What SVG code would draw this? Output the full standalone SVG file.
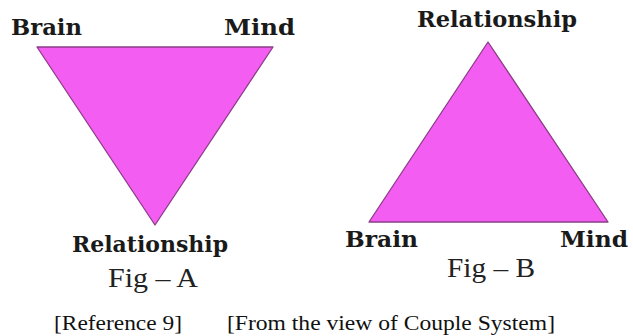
<svg xmlns="http://www.w3.org/2000/svg" width="633" height="336" viewBox="0 0 633 336">
<style>
.tri{fill:#F45DF2;stroke:#8C3C88;stroke-width:1.3;stroke-linejoin:round}
.lbl{font-family:"DejaVu Serif","Liberation Serif",serif;font-weight:bold;font-size:23px;fill:#1a1a1a}
.fig{font-family:"Liberation Serif","Times New Roman",serif;font-size:28px;fill:#222}
.cap{font-family:"Liberation Serif","Times New Roman",serif;font-size:22px;fill:#111}
</style>
<rect width="633" height="336" fill="#fff"/>
<g id="figA">
<polygon class="tri" points="37,47 273,47 155,225"/>
<text class="lbl" x="11" y="35" textLength="71" lengthAdjust="spacingAndGlyphs">Brain</text>
<text class="lbl" x="224" y="35" textLength="71" lengthAdjust="spacingAndGlyphs">Mind</text>
<text class="lbl" x="72" y="252" textLength="156" lengthAdjust="spacingAndGlyphs">Relationship</text>
<text class="fig" x="108" y="287" textLength="90" lengthAdjust="spacingAndGlyphs">Fig – A</text>
</g>
<g id="figB">
<polygon class="tri" points="488,42 369,222 608,222"/>
<text class="lbl" x="417" y="27" textLength="160" lengthAdjust="spacingAndGlyphs">Relationship</text>
<text class="lbl" x="345" y="247" textLength="73" lengthAdjust="spacingAndGlyphs">Brain</text>
<text class="lbl" x="560" y="247" textLength="68" lengthAdjust="spacingAndGlyphs">Mind</text>
<text class="fig" x="447" y="277" textLength="88" lengthAdjust="spacingAndGlyphs">Fig – B</text>
</g>
<g id="captions">
<text class="cap" x="54" y="330" textLength="128" lengthAdjust="spacingAndGlyphs">[Reference 9]</text>
<text class="cap" x="227" y="330" textLength="328" lengthAdjust="spacingAndGlyphs">[From the view of Couple System]</text>
</g>
</svg>
